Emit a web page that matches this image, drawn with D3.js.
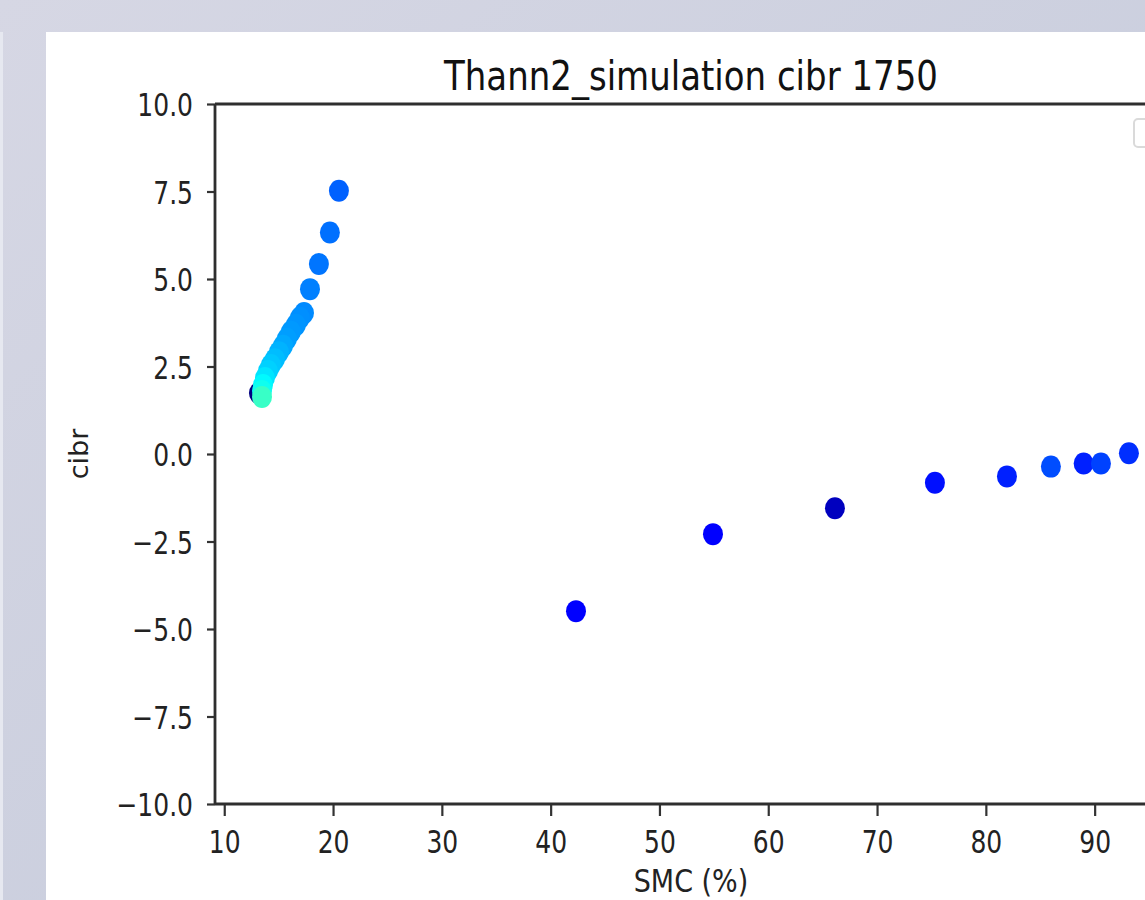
<!DOCTYPE html>
<html><head><meta charset="utf-8">
<script src="https://cdn.jsdelivr.net/npm/d3@7"></script>
<style>body{margin:0;background:#fff;overflow:hidden} svg{display:block}</style>
</head><body>
<svg id="chart" width="1145" height="900"></svg>
<script>
// ---- data ----
const titleText = "Thann2_simulation cibr 1750";
const xLabelText = "SMC (%)";
const yLabelText = "cibr";
const smc  = [13.19, 20.54, 19.71, 18.70, 17.88, 17.33, 16.96, 16.59, 16.13, 15.76, 15.40, 15.03, 14.66, 14.29, 14.02, 13.74, 13.56, 13.47, 13.47,
              42.33, 54.92, 66.13, 75.32, 81.94, 85.98, 88.99, 90.58, 93.15];
const cibr = [1.74, 7.52, 6.33, 5.43, 4.71, 4.03, 3.89, 3.69, 3.49, 3.29, 3.09, 2.91, 2.71, 2.54, 2.37, 2.17, 1.97, 1.80, 1.63,
              -4.49, -2.29, -1.55, -0.82, -0.64, -0.36, -0.27, -0.27, 0.02];
const colorPos = [0.0, 0.22, 0.235, 0.24, 0.25, 0.26, 0.265, 0.27, 0.275, 0.28, 0.29, 0.30, 0.31, 0.32, 0.33, 0.35, 0.37, 0.39, 0.43,
              0.125, 0.125, 0.0625, 0.14, 0.156, 0.2, 0.156, 0.19, 0.17];
const xTicks = [10, 20, 30, 40, 50, 60, 70, 80, 90];
const yTicks = [-10, -7.5, -5, -2.5, 0, 2.5, 5, 7.5, 10];
const xDomain = [9.15, 96.65];
const yDomain = [-10, 10];

// ---- layout ----
const W = 1145, H = 900;
const L = 215, R = 1167, T = 104, B = 804;
const TXT_K = 1.28;

function jet(t){
  const c = v => Math.max(0, Math.min(1, v));
  const r = c(1.5 - Math.abs(4*t - 3)), g = c(1.5 - Math.abs(4*t - 2)), b = c(1.5 - Math.abs(4*t - 1));
  return d3.rgb(r*255, g*255, b*255).formatHex();
}
const color = d3.scaleSequential(jet).domain([0, 1]);

const svg = d3.select("#chart");
const defs = svg.append("defs");
const grad = defs.append("linearGradient").attr("id","bg").attr("x1","0").attr("y1","0").attr("x2","1").attr("y2","1");
grad.append("stop").attr("offset","0").attr("stop-color","#d6d7e4");
grad.append("stop").attr("offset","1").attr("stop-color","#c3c9da");
svg.append("rect").attr("width",W).attr("height",H).attr("fill","url(#bg)");
svg.append("rect").attr("x",0).attr("y",32).attr("width",3).attr("height",H-32).attr("fill","#e6e8f0");
svg.append("rect").attr("x",46).attr("y",32).attr("width",W-46).attr("height",H-32).attr("fill","#ffffff");

const x = d3.scaleLinear().domain(xDomain).range([L, R]);
const y = d3.scaleLinear().domain(yDomain).range([B, T]);

const fmtY = d3.format(".1f");

// points
const pts = smc.map((v,i) => ({x: v, y: cibr[i], c: colorPos[i]}));
svg.append("g").selectAll("ellipse").data(pts).join("ellipse")
  .attr("cx", d => x(d.x)).attr("cy", d => y(d.y))
  .attr("rx", 10).attr("ry", 11)
  .attr("fill", d => color(d.c));

// x axis
const gx = svg.append("g").attr("transform", `translate(0,${B})`)
  .call(d3.axisBottom(x).tickValues(xTicks).tickSize(12).tickFormat(d3.format("d")));
gx.select(".domain").remove();
gx.selectAll(".tick line").attr("stroke","#333").attr("stroke-width",2.2);
gx.selectAll(".tick text").attr("y",0).attr("dy",0)
  .attr("transform",`translate(0,48.5) scale(1,${TXT_K})`)
  .attr("font-family","DejaVu Sans").attr("font-size",25).attr("fill","#222");

// y axis
const gy = svg.append("g").attr("transform", `translate(${L},0)`)
  .call(d3.axisLeft(y).tickValues(yTicks).tickSize(8).tickFormat(fmtY));
gy.select(".domain").remove();
gy.selectAll(".tick line").attr("stroke","#333").attr("stroke-width",2.2);
gy.selectAll(".tick text").attr("x",0).attr("dy",0)
  .attr("transform",`translate(-22,11.7) scale(1,${TXT_K})`)
  .attr("text-anchor","end")
  .attr("font-family","DejaVu Sans").attr("font-size",25).attr("fill","#222");

// spines
const spine = svg.append("g").attr("stroke","#2e2e2e").attr("stroke-width",2.8).attr("fill","none");
spine.append("line").attr("x1",L).attr("x2",L).attr("y1",T).attr("y2",B);
spine.append("line").attr("x1",L).attr("x2",R).attr("y1",B).attr("y2",B);
spine.append("line").attr("x1",L).attr("x2",R).attr("y1",T).attr("y2",T);
spine.append("line").attr("x1",R).attr("x2",R).attr("y1",T).attr("y2",B);

// empty legend box
svg.append("rect").attr("x",1134).attr("y",119).attr("width",24).attr("height",28).attr("rx",4)
  .attr("fill","#fff").attr("stroke","#dadada").attr("stroke-width",2);

// title & labels
svg.append("text").text(titleText)
  .attr("transform",`translate(${(L+R)/2},90) scale(1,1.2)`)
  .attr("text-anchor","middle").attr("font-family","DejaVu Sans").attr("font-size",34).attr("fill","#111");
svg.append("text").text(xLabelText)
  .attr("transform",`translate(${(L+R)/2},892) scale(1,1.15)`)
  .attr("text-anchor","middle").attr("font-family","DejaVu Sans").attr("font-size",27).attr("fill","#222");
svg.append("text").text(yLabelText)
  .attr("transform",`translate(88,${(T+B)/2}) rotate(-90)`)
  .attr("text-anchor","middle").attr("font-family","DejaVu Sans").attr("font-size",27).attr("fill","#222");
</script>
</body></html>
